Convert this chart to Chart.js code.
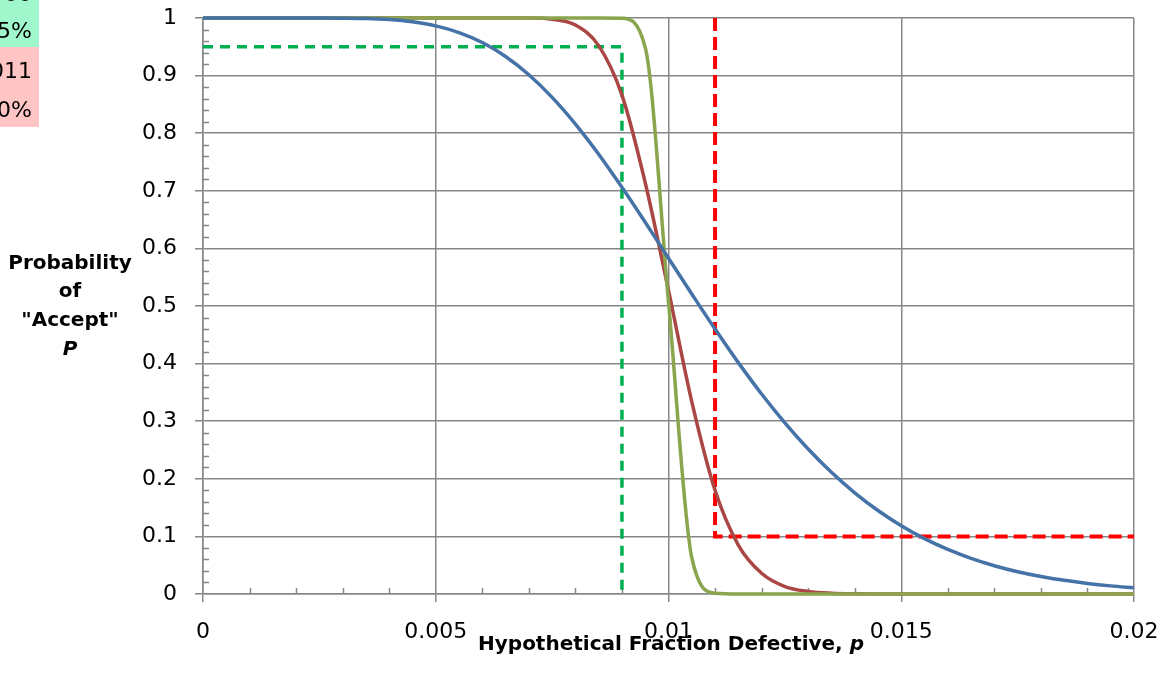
<!DOCTYPE html>
<html>
<head>
<meta charset="utf-8">
<script src="https://cdn.jsdelivr.net/npm/chart.js@4/dist/chart.umd.min.js"></script>
<style>
  body { margin: 0; background: #fff; }
  #wrap { width: 1163px; height: 685px; position: relative; }
</style>
</head>
<body>
<div id="wrap"><canvas id="ocChart"></canvas></div>
<script>
// fraction defective p (x axis)
const pValues = [0, 0.0005, 0.001, 0.0015, 0.002, 0.0025, 0.003, 0.0035, 0.004, 0.0045,
  0.005, 0.0055, 0.006, 0.0065, 0.007, 0.0075, 0.008, 0.0085, 0.009, 0.0095,
  0.01, 0.0105, 0.011, 0.0115, 0.012, 0.0125, 0.013, 0.0135, 0.014, 0.0145,
  0.015, 0.0155, 0.016, 0.0165, 0.017, 0.0175, 0.018, 0.0185, 0.019, 0.0195, 0.02];

// probability of accept, one list per curve
const blueP = [1, 1, 1, 1, 1, 0.9999, 0.9997, 0.9991, 0.9972, 0.9933,
  0.9863, 0.9747, 0.9574, 0.9332, 0.9015, 0.8622, 0.8159, 0.7636, 0.7060, 0.6453,
  0.5830, 0.5209, 0.4599, 0.4017, 0.3472, 0.2971, 0.2517, 0.2112, 0.1757, 0.1449,
  0.1185, 0.0961, 0.0774, 0.0619, 0.0491, 0.0387, 0.0304, 0.0237, 0.0183, 0.0141, 0.0108];
const redP = [1, 1, 1, 1, 1, 1, 1, 1, 1, 1,
  1, 1, 1, 1, 0.9999, 0.998, 0.988, 0.952, 0.866, 0.714,
  0.527, 0.334, 0.180, 0.085, 0.036, 0.013, 0.0045, 0.0014, 0.0004, 0.0001,
  0, 0, 0, 0, 0, 0, 0, 0, 0, 0, 0];
const greenP = [1, 1, 1, 1, 1, 1, 1, 1, 1, 1,
  1, 1, 1, 1, 1, 1, 1, 1, 0.9996, 0.949,
  0.507, 0.063, 0.0013, 0, 0, 0, 0, 0, 0, 0,
  0, 0, 0, 0, 0, 0, 0, 0, 0, 0, 0];

// producer / consumer risk points
const aqlP = 0.009, aqlPa = 0.95;
const ltpdP = 0.011, ltpdPa = 0.1;

const xTicks = [0, 0.005, 0.01, 0.015, 0.02];
const yTicks = [0, 0.1, 0.2, 0.3, 0.4, 0.5, 0.6, 0.7, 0.8, 0.9, 1];

// leftover spreadsheet cells at the top-left corner
const cellTexts = ['1000', '95%', '0.011', '10%'];

const gridColor = '#878787';
const tickFont = { family: 'DejaVu Sans', size: 22 };

function toPoints(ys) {
  return ys.map((y, i) => ({ x: pValues[i], y }));
}

function fmt(v) {
  return String(Number(v.toFixed(4)));
}

const minorTicks = {
  id: 'minorTicks',
  beforeDatasetsDraw(chart) {
    const { ctx, chartArea, scales } = chart;
    ctx.save();
    ctx.strokeStyle = gridColor;
    ctx.lineWidth = 1.5;
    ctx.beginPath();
    for (let i = 1; i < 20; i++) {
      if (i % 5 === 0) continue;
      const x = Math.round(scales.x.getPixelForValue(i * 0.001)) + 0.5;
      ctx.moveTo(x, chartArea.bottom);
      ctx.lineTo(x, chartArea.bottom - 6);
    }
    for (let i = 1; i < 50; i++) {
      if (i % 5 === 0) continue;
      const y = Math.round(scales.y.getPixelForValue(i * 0.02)) + 0.5;
      ctx.moveTo(chartArea.left, y);
      ctx.lineTo(chartArea.left + 6, y);
    }
    ctx.stroke();
    ctx.restore();
  }
};

const extraText = {
  id: 'extraText',
  afterDraw(chart) {
    const ctx = chart.ctx;
    ctx.save();

    // cells
    ctx.fillStyle = '#a0f7cc';
    ctx.fillRect(0, 0, 39, 47);
    ctx.fillStyle = '#ffc5c5';
    ctx.fillRect(0, 47, 39, 80);
    ctx.font = '22px "DejaVu Sans"';
    ctx.fillStyle = '#000';
    ctx.textAlign = 'right';
    ctx.textBaseline = 'alphabetic';
    const baselines = [1, 38, 78, 117];
    cellTexts.forEach((t, i) => ctx.fillText(t, 32, baselines[i]));

    // y title
    ctx.textAlign = 'center';
    ctx.font = 'bold 20px "DejaVu Sans"';
    ctx.fillText('Probability', 70, 269);
    ctx.fillText('of', 70, 297);
    ctx.fillText('"Accept"', 70, 326);
    ctx.font = 'italic bold 20px "DejaVu Sans"';
    ctx.fillText('P', 70, 355);

    // x title
    const main = 'Hypothetical Fraction Defective, ';
    ctx.font = 'bold 20px "DejaVu Sans"';
    const w1 = ctx.measureText(main).width;
    ctx.font = 'italic bold 20px "DejaVu Sans"';
    const w2 = ctx.measureText('p').width;
    const x0 = 671 - (w1 + w2) / 2;
    ctx.textAlign = 'left';
    ctx.font = 'bold 20px "DejaVu Sans"';
    ctx.fillText(main, x0, 650);
    ctx.font = 'italic bold 20px "DejaVu Sans"';
    ctx.fillText('p', x0 + w1, 650);
    ctx.restore();
  }
};

const curveStyle = { pointRadius: 0, borderWidth: 3.5, cubicInterpolationMode: 'monotone', clip: 6, fill: false };

new Chart(document.getElementById('ocChart'), {
  type: 'line',
  data: {
    datasets: [
      { ...curveStyle, label: 'blue', data: toPoints(blueP), borderColor: '#4572a7' },
      { ...curveStyle, label: 'green', data: toPoints(greenP), borderColor: '#89a54e' },
      { ...curveStyle, label: 'red', data: toPoints(redP), borderColor: '#aa4643' },
      {
        label: 'ltpd', data: [{ x: ltpdP, y: 1 }, { x: ltpdP, y: ltpdPa }, { x: 0.02, y: ltpdPa }],
        borderColor: '#ff0000', borderWidth: 4, borderDash: [13, 6], pointRadius: 0, tension: 0, clip: 6
      },
      {
        label: 'aql', data: [{ x: 0, y: aqlPa }, { x: aqlP, y: aqlPa }, { x: aqlP, y: 0 }],
        borderColor: '#00b050', borderWidth: 3.5, borderDash: [10, 7], pointRadius: 0, tension: 0, clip: 6
      }
    ]
  },
  options: {
    responsive: true,
    maintainAspectRatio: false,
    animation: false,
    layout: { padding: { top: 18, right: 29, left: 0, bottom: 0 } },
    plugins: { legend: { display: false }, tooltip: { enabled: false } },
    scales: {
      x: {
        type: 'linear',
        min: 0,
        max: 0.02,
        afterFit(scale) {
          scale.height = 91;
          scale.paddingLeft = 0;
          scale.paddingRight = 0;
        },
        afterBuildTicks(scale) { scale.ticks = xTicks.map(v => ({ value: v })); },
        ticks: { font: tickFont, color: '#000', padding: 17, maxRotation: 0, callback: v => fmt(v) },
        grid: { color: gridColor, lineWidth: 1.5, tickLength: 8 },
        border: { color: gridColor, width: 1.5 }
      },
      y: {
        min: 0,
        max: 1,
        afterFit(scale) {
          scale.width = 203;
          scale.paddingTop = 0;
          scale.paddingBottom = 0;
        },
        afterBuildTicks(scale) { scale.ticks = yTicks.map(v => ({ value: v })); },
        ticks: { font: tickFont, color: '#000', padding: 18, callback: v => fmt(v) },
        grid: { color: gridColor, lineWidth: 1.5, tickLength: 8 },
        border: { color: gridColor, width: 1.5 }
      }
    }
  },
  plugins: [minorTicks, extraText]
});
</script>
</body>
</html>
